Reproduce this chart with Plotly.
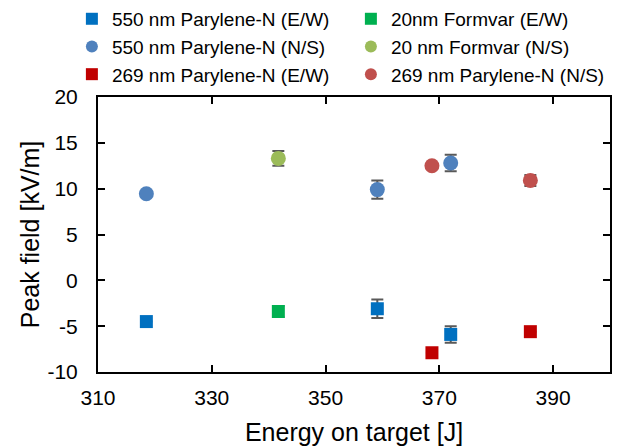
import plotly.graph_objects as go

# Energies on target [J]
energy_550 = [318.5, 359.1, 372.0]
energy_20 = [341.7]
energy_269 = [368.7, 386.0]

# Peak field [kV/m]
ew_550 = [-4.5, -3.1, -5.9]
ew_550_err = [0.0, 1.0, 0.9]
ns_550 = [9.45, 9.9, 12.8]
ns_550_err = [0.0, 1.0, 0.9]

ew_20 = [-3.4]
ew_20_err = [0.6]
ns_20 = [13.3]
ns_20_err = [0.8]

ew_269 = [-7.9, -5.6]
ew_269_err = [0.0, 0.0]
ns_269 = [12.5, 10.9]
ns_269_err = [0.0, 0.6]

x_ticks = [310, 330, 350, 370, 390]
y_ticks = [-10, -5, 0, 5, 10, 15, 20]

FONT = "Liberation Sans, Arial, sans-serif"
ERR_COLOR = "#595959"

series = [
    ("550 nm Parylene-N (E/W)", energy_550, ew_550, ew_550_err, "square", "#0070C0", 13),
    ("20nm Formvar (E/W)", energy_20, ew_20, ew_20_err, "square", "#00B050", 13),
    ("550 nm Parylene-N (N/S)", energy_550, ns_550, ns_550_err, "circle", "#4F81BD", 15),
    ("20 nm Formvar (N/S)", energy_20, ns_20, ns_20_err, "circle", "#9BBB59", 15),
    ("269 nm Parylene-N (E/W)", energy_269, ew_269, ew_269_err, "square", "#C00000", 13),
    ("269 nm Parylene-N (N/S)", energy_269, ns_269, ns_269_err, "circle", "#C0504D", 15),
]

fig = go.Figure()
for name, xs, ys, errs, sym, col, size in series:
    fig.add_trace(go.Scatter(
        x=xs, y=ys, name=name, mode="markers",
        marker=dict(symbol=sym, color=col, size=size, line=dict(width=0)),
        error_y=dict(type="data", array=errs, visible=True,
                     color=ERR_COLOR, thickness=2, width=6),
    ))

fig.update_layout(
    width=625, height=439,
    margin=dict(l=90, r=23, t=89, b=75, autoexpand=False),
    paper_bgcolor="white", plot_bgcolor="white",
    font=dict(family=FONT, size=21, color="#000000"),
    showlegend=True,
    legend=dict(
        orientation="h", x=-0.051, xanchor="left", y=1.353, yanchor="top",
        entrywidth=234, entrywidthmode="pixels",
        font=dict(family=FONT, size=19, color="#000000"),
        itemsizing="constant", bgcolor="rgba(0,0,0,0)",
        tracegroupgap=0,
    ),
    xaxis=dict(
        range=[310, 400], tickmode="array", tickvals=x_ticks,
        ticktext=[str(v) for v in x_ticks],
        ticks="inside", ticklen=7, tickwidth=1.5, tickcolor="#000",
        showline=True, linecolor="#000", linewidth=2, mirror="ticks",
        showgrid=False, zeroline=False, automargin=False,
        ticklabelstandoff=6,
        title=dict(text="Energy on target [J]", standoff=15),
        tickfont=dict(size=21),
    ),
    yaxis=dict(
        range=[-10, 20], tickmode="array", tickvals=y_ticks,
        ticktext=[str(v) for v in y_ticks],
        ticks="inside", ticklen=7, tickwidth=1.5, tickcolor="#000",
        showline=True, linecolor="#000", linewidth=2, mirror="ticks",
        showgrid=False, zeroline=False, automargin=False,
        ticklabelstandoff=14,
        title=dict(text="Peak field [kV/m]", standoff=1),
        tickfont=dict(size=21),
    ),
)

fig.write_html("out.html")
